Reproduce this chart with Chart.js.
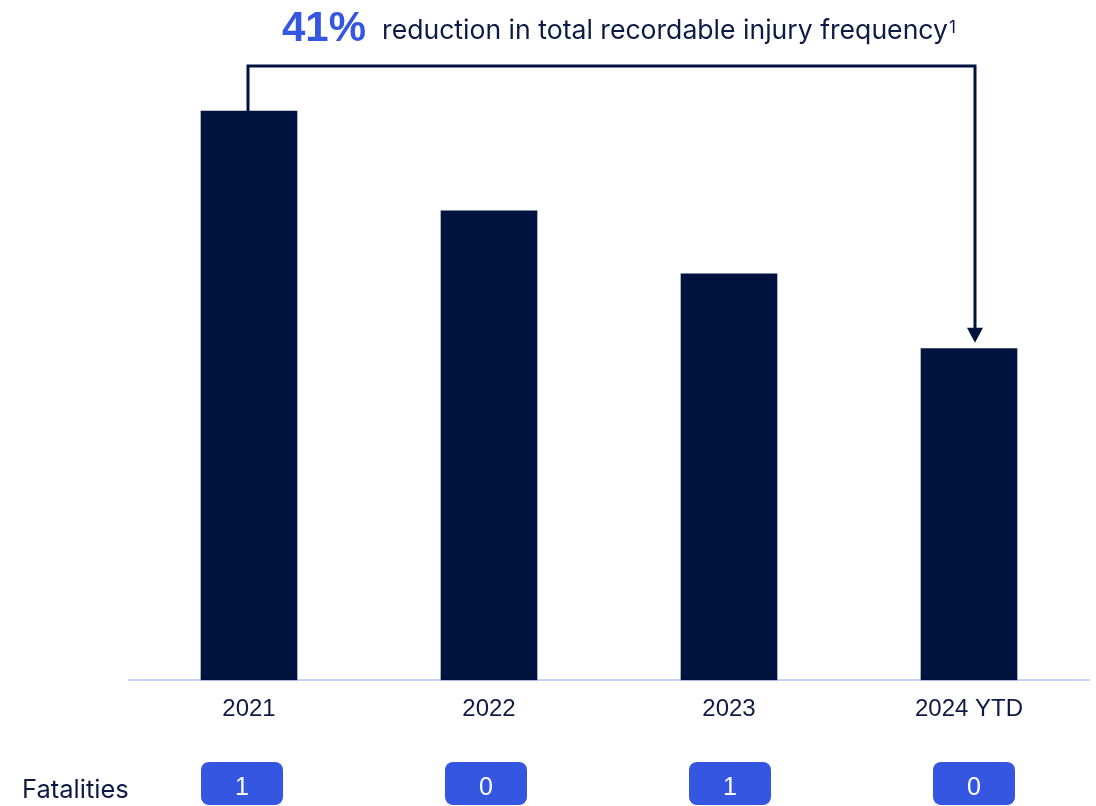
<!DOCTYPE html>
<html>
<head>
<meta charset="utf-8">
<script src="https://cdn.jsdelivr.net/npm/chart.js@4.4.1/dist/chart.umd.min.js"></script>
<style>
    html, body { margin: 0; padding: 0; background: #ffffff; }
    #wrap { position: relative; width: 1096px; height: 806px; }
</style>
</head>
<body>
<div id="wrap"><canvas id="trifChart" width="1096" height="806"></canvas></div>
<script>
// Total recordable injury frequency by year
const years = ['2021', '2022', '2023', '2024 YTD'];
const trifValues = [0.57, 0.47, 0.407, 0.332];
const fatalities = [1, 0, 1, 0];
const headlineFigure = '41%';
const headlineText = 'reduction in total recordable injury frequency';
const headlineNote = '1';
const rowLabel = 'Fatalities';

const NAVY = '#00133f';
const TEXT_NAVY = '#0d1a45';
const BLUE = '#3456e0';

const overlay = {
    id: 'overlay',
    afterDraw: function (chart) {
        const ctx = chart.ctx;
        const x = chart.scales.x;
        const bars = chart.getDatasetMeta(0).data;
        ctx.save();

        // headline
        ctx.textBaseline = 'alphabetic';
        ctx.textAlign = 'left';
        ctx.font = 'bold 42px Arial, "Liberation Sans"';
        ctx.fillStyle = BLUE;
        let hx = 282;
        ctx.fillText(headlineFigure, hx, 41);
        hx += ctx.measureText(headlineFigure).width + 16;
        ctx.font = '26.6px Inter';
        ctx.fillStyle = TEXT_NAVY;
        ctx.fillText(headlineText, hx, 39);
        hx += ctx.measureText(headlineText).width + 1;
        ctx.font = '17px Inter';
        ctx.fillText(headlineNote, hx, 33);

        // bracket from first bar to last bar
        const first = bars[0];
        const last = bars[bars.length - 1];
        const topY = 66;
        const ax = last.x + 6;
        const tipY = last.y - 6;
        ctx.strokeStyle = NAVY;
        ctx.lineWidth = 3;
        ctx.lineJoin = 'miter';
        ctx.beginPath();
        ctx.moveTo(first.x - 1, first.y);
        ctx.lineTo(first.x - 1, topY);
        ctx.lineTo(ax, topY);
        ctx.lineTo(ax, tipY - 12);
        ctx.stroke();
        ctx.fillStyle = NAVY;
        ctx.beginPath();
        ctx.moveTo(ax - 8, tipY - 15);
        ctx.lineTo(ax + 8, tipY - 15);
        ctx.lineTo(ax, tipY);
        ctx.closePath();
        ctx.fill();

        // fatalities row
        ctx.font = '25.5px Inter';
        ctx.fillStyle = TEXT_NAVY;
        ctx.textBaseline = 'alphabetic';
        ctx.fillText(rowLabel, 22, 798);
        ctx.textAlign = 'center';
        ctx.textBaseline = 'middle';
        for (let i = 0; i < fatalities.length; i++) {
            const cx = x.getPixelForValue(i) + (i - 1.5) * 4 - 1;
            ctx.fillStyle = BLUE;
            ctx.beginPath();
            ctx.roundRect(cx - 41, 762, 82, 43, 8);
            ctx.fill();
            ctx.fillStyle = '#ffffff';
            ctx.font = '25px Arial, "Liberation Sans"';
            ctx.fillText(String(fatalities[i]), cx, 788);
        }
        ctx.restore();
    }
};

new Chart(document.getElementById('trifChart'), {
    type: 'bar',
    data: {
        labels: years,
        datasets: [
            {
                data: trifValues,
                backgroundColor: NAVY,
                borderWidth: 0,
                barThickness: 96
            }
        ]
    },
    options: {
        responsive: false,
        animation: false,
        layout: {
            padding: { top: 81, left: 129, right: 7, bottom: 67 }
        },
        plugins: {
            legend: { display: false },
            tooltip: { enabled: false }
        },
        scales: {
            x: {
                grid: { display: false, drawTicks: false },
                border: { display: true, color: '#c6d1fa', width: 2 },
                ticks: {
                    color: TEXT_NAVY,
                    padding: 15,
                    font: { family: 'Arial, "Liberation Sans"', size: 24 }
                }
            },
            y: {
                display: false,
                min: 0,
                max: 0.6
            }
        }
    },
    plugins: [overlay]
});
</script>
</body>
</html>
